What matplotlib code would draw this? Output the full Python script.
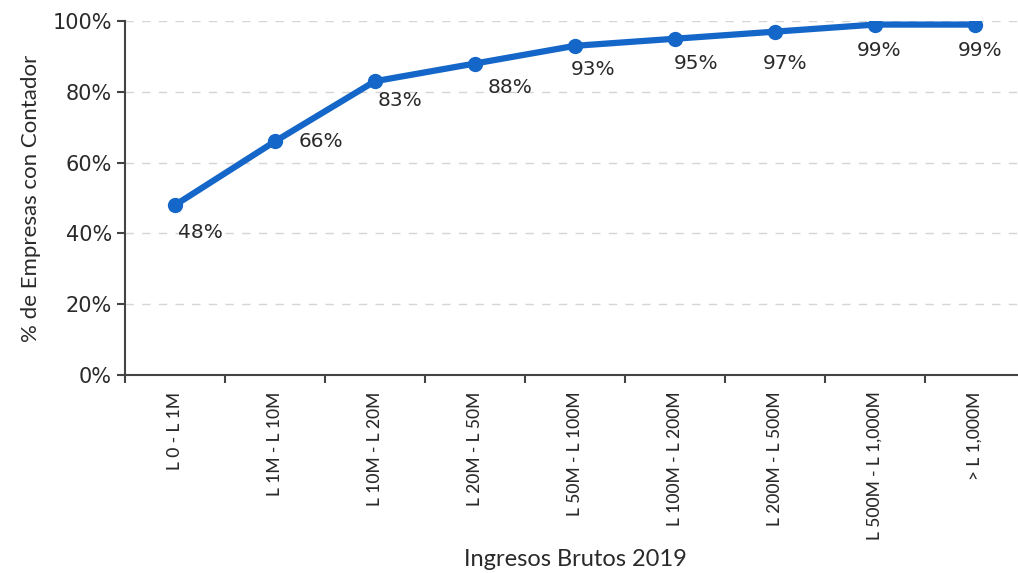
import numpy as np
import matplotlib.pyplot as plt
from matplotlib.ticker import FixedLocator, PercentFormatter

categories = ["L 0 - L 1M", "L 1M - L 10M", "L 10M - L 20M", "L 20M - L 50M",
              "L 50M - L 100M", "L 100M - L 200M", "L 200M - L 500M",
              "L 500M - L 1,000M", "> L 1,000M"]
values = [48, 66, 83, 88, 93, 95, 97, 99, 99]
labels = ["48%", "66%", "83%", "88%", "93%", "95%", "97%", "99%", "99%"]

# label offsets in points (dx, dy) relative to each marker
offsets = [(18, -20), (33, 0), (18, -14), (25, -17), (13, -17), (15, -18), (7, -23), (3, -19), (4, -19)]

plt.rcParams['font.family'] = ['Lato', 'DejaVu Sans']
blue = '#1467c8'
text_col = '#2a2a2a'

fig = plt.figure(figsize=(10.18, 5.73), dpi=100)
ax = fig.add_axes([0.1228, 0.3455, 0.884, 0.6178])

x = np.arange(len(categories))
ax.plot(x, values, color=blue, lw=4.5, marker='o', ms=10, solid_capstyle='round')

for xi, v, lab, (dx, dy) in zip(x, values, labels, offsets):
    ax.annotate(lab, (xi, v), xytext=(dx, dy), textcoords='offset points',
                ha='center', va='center', fontsize=14.5, color=text_col,
                family='DejaVu Sans')

ax.set_xlim(-0.5, len(categories) - 0.5)
ax.set_ylim(0, 100)
ax.yaxis.set_major_locator(FixedLocator([0, 20, 40, 60, 80, 100]))
ax.yaxis.set_major_formatter(PercentFormatter(decimals=0))
ax.set_xticks(x)
ax.set_xticklabels(categories, rotation=90, fontsize=12.5, color=text_col, fontweight='medium')
ax.xaxis.set_minor_locator(FixedLocator(np.arange(len(categories) + 1) - 0.5))
ax.tick_params(axis='x', which='major', length=0, pad=12)
ax.tick_params(axis='x', which='minor', length=6, width=1.5, color='#444444')
ax.tick_params(axis='y', length=6, width=1.5, color='#444444', labelsize=15, labelcolor=text_col)
for t in ax.get_yticklabels():
    t.set_family('DejaVu Sans')

ax.grid(axis='y', linestyle=(0, (6, 6)), color='#d5d5d5', lw=1)
ax.set_axisbelow(True)
for s in ['top', 'right']:
    ax.spines[s].set_visible(False)
for s in ['left', 'bottom']:
    ax.spines[s].set_color('#444444')
    ax.spines[s].set_linewidth(1.5)

ax.set_ylabel("% de Empresas con Contador", fontsize=16, color=text_col, labelpad=8)
ax.set_xlabel("Ingresos Brutos 2019", fontsize=17, color=text_col, labelpad=6)

fig.savefig("out.png", dpi=100, facecolor='white')
